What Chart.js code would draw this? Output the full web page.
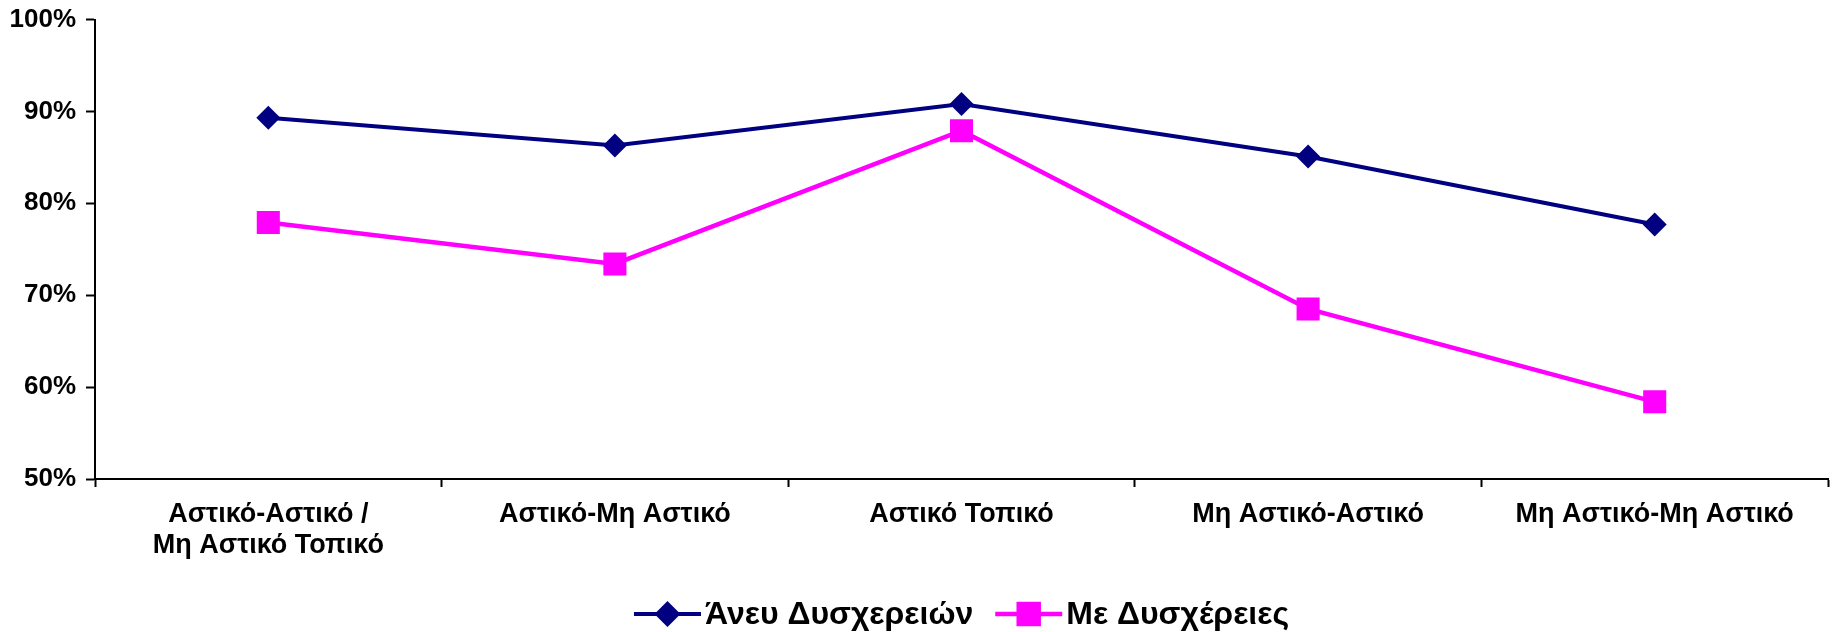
<!DOCTYPE html>
<html lang="el">
<head>
    <meta charset="UTF-8">
    <title>Άνευ / Με Δυσχέρειες</title>
    <script src="https://cdn.jsdelivr.net/npm/chart.js"></script>
    <style>
        html, body {
            margin: 0;
            padding: 0;
            overflow: hidden;
            background-color: #fff;
        }
        #chartContainer {
            width: 1834px;
            height: 632px;
        }
        #apiChart {
            display: block;
        }
    </style>
</head>
<body>
    <div id="chartContainer">
        <canvas id="apiChart"></canvas>
    </div>

    <script>
        const categories = [
            ['Αστικό-Αστικό /', 'Μη Αστικό Τοπικό'],
            'Αστικό-Μη Αστικό',
            'Αστικό Τοπικό',
            'Μη Αστικό-Αστικό',
            'Μη Αστικό-Μη Αστικό'
        ];
        const seriesNames = ['Άνευ Δυσχερειών', 'Με Δυσχέρειες'];
        const withoutDifficulty = [89.3, 86.3, 90.8, 85.1, 77.7];
        const withDifficulty = [77.9, 73.4, 87.9, 68.5, 58.4];
        const yTicks = [50, 60, 70, 80, 90, 100];

        const navy = '#000080';
        const magenta = '#ff00ff';
        const fontFamily = "'Liberation Sans', Arial, sans-serif";

        // legend drawn by hand: short line with the marker in the middle, then the name
        const lineLegend = {
            id: 'lineLegend',
            afterDraw(chart) {
                const g = chart.ctx;
                const area = chart.chartArea;
                const y = 614;
                const lineLen = 67;
                g.save();
                g.font = 'bold 32px ' + fontFamily;
                g.textBaseline = 'middle';
                const items = chart.data.datasets.map(ds => ({ ds, w: g.measureText(ds.label).width }));
                const total = items.reduce((s, it) => s + lineLen + 4 + it.w, 0) + 22 * (items.length - 1);
                let x = (area.left + area.right) / 2 - total / 2;
                items.forEach(it => {
                    const ds = it.ds;
                    g.strokeStyle = ds.borderColor;
                    g.lineWidth = ds.borderWidth;
                    g.beginPath();
                    g.moveTo(x, y);
                    g.lineTo(x + lineLen, y);
                    g.stroke();
                    g.fillStyle = ds.borderColor;
                    Chart.helpers.drawPoint(g, {
                        pointStyle: ds.pointStyle,
                        radius: ds.pointRadius + 1,
                        borderWidth: 0,
                        rotation: 0
                    }, x + lineLen / 2, y);
                    g.fillStyle = '#000';
                    g.fillText(ds.label, x + lineLen + 4, y + 1);
                    x += lineLen + 4 + it.w + 22;
                });
                g.restore();
            }
        };

        const ctx = document.getElementById('apiChart').getContext('2d');
        const apiChart = new Chart(ctx, {
            type: 'line',
            data: {
                labels: categories,
                datasets: [{
                    label: seriesNames[0],
                    data: withoutDifficulty,
                    borderColor: navy,
                    backgroundColor: navy,
                    borderWidth: 4,
                    pointStyle: 'rectRot',
                    pointRadius: 12,
                    pointHoverRadius: 12,
                    pointBorderWidth: 0,
                    tension: 0
                }, {
                    label: seriesNames[1],
                    data: withDifficulty,
                    borderColor: magenta,
                    backgroundColor: magenta,
                    borderWidth: 4.5,
                    pointStyle: 'rect',
                    pointRadius: 16.3,
                    pointHoverRadius: 16.3,
                    pointBorderWidth: 0,
                    tension: 0
                }]
            },
            options: {
                responsive: true,
                maintainAspectRatio: false,
                animation: false,
                layout: {
                    autoPadding: false,
                    padding: { top: 19.5, right: 6, bottom: 40, left: 0 }
                },
                plugins: {
                    tooltip: { enabled: false },
                    legend: { display: false }
                },
                scales: {
                    x: {
                        offset: true,
                        afterFit: function(scale) {
                            scale.height = 113;
                        },
                        grid: {
                            offset: true,
                            drawOnChartArea: false,
                            drawTicks: true,
                            tickLength: 8,
                            tickColor: '#000',
                            tickWidth: 2
                        },
                        border: { display: true, color: '#000', width: 2 },
                        ticks: {
                            color: '#000',
                            maxRotation: 0,
                            autoSkip: false,
                            padding: 12,
                            font: { family: fontFamily, size: 27, weight: 'bold', lineHeight: 1.15 }
                        }
                    },
                    y: {
                        min: yTicks[0],
                        max: yTicks[yTicks.length - 1],
                        afterBuildTicks: function(scale) {
                            scale.ticks = yTicks.map(v => ({ value: v }));
                        },
                        afterFit: function(scale) {
                            scale.width = 95;
                            scale.paddingTop = 0;
                            scale.paddingBottom = 0;
                        },
                        grid: {
                            drawOnChartArea: false,
                            drawTicks: true,
                            tickLength: 9,
                            tickColor: '#000',
                            tickWidth: 2
                        },
                        border: { display: true, color: '#000', width: 2 },
                        ticks: {
                            color: '#000',
                            padding: 10,
                            font: { family: fontFamily, size: 26, weight: 'bold' },
                            callback: function(value) {
                                return value + '%';
                            }
                        }
                    }
                }
            },
            plugins: [lineLegend]
        });
    </script>
</body>
</html>
